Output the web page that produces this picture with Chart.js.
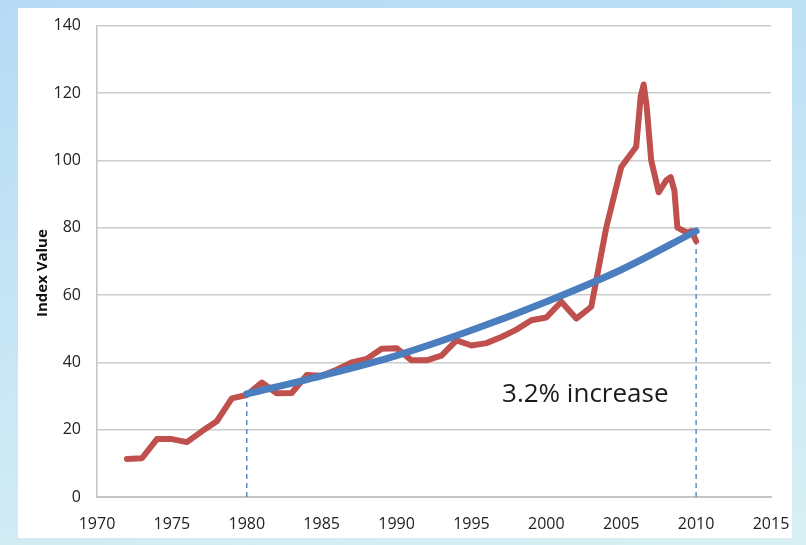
<!DOCTYPE html>
<html>
<head>
<meta charset="utf-8">
<script src="https://cdn.jsdelivr.net/npm/chart.js@4/dist/chart.umd.min.js"></script>
<style>
  html, body { margin: 0; padding: 0; }
  body {
    width: 806px; height: 545px; overflow: hidden; position: relative;
    background: linear-gradient(170deg, #b6dbf5 0%, #c7e6f5 50%, #d8f0f3 100%);
  }
  #panel { position: absolute; left: 18px; top: 8px; width: 774px; height: 530px; background: #fff; }
  #indexChart { position: absolute; left: 0; top: 0; }
</style>
</head>
<body>
<div id="panel"></div>
<canvas id="indexChart" width="806" height="545"></canvas>
<script>
// house price style index
const indexYears = [1972, 1973, 1974, 1975, 1976, 1977, 1978, 1979, 1980, 1981, 1982, 1983, 1984, 1985,
  1986, 1987, 1988, 1989, 1990, 1991, 1992, 1993, 1994, 1995, 1996, 1997, 1998, 1999, 2000, 2001,
  2002, 2003, 2004, 2005, 2006, 2006.3, 2006.5, 2006.7, 2007, 2007.5, 2008, 2008.3, 2008.55,
  2008.75, 2009.4, 2009.7, 2010];
const indexValues = [11.3, 11.5, 17.2, 17.2, 16.3, 19.5, 22.5, 29.3, 30.3, 34, 30.8, 30.9, 36.2, 36,
  37.8, 40, 41, 44, 44.2, 40.6, 40.6, 42, 46.5, 45, 45.7, 47.5, 49.7, 52.5, 53.3, 58,
  53, 56.5, 80, 98, 104, 119, 122.5, 116, 100, 90.5, 94, 95, 91,
  80, 78.5, 79, 76];

// trend line 1980-2010
const trendYears = [1980, 1985, 1990, 1995, 2000, 2005, 2010];
const trendValues = [30.6, 36, 42, 49.5, 58, 67.5, 79];

// dashed drop lines
const dropYears = [1980, 2010];
const dropTops = [30.6, 79];

const yTicks = [0, 20, 40, 60, 80, 100, 120, 140];
const xTicks = [1970, 1975, 1980, 1985, 1990, 1995, 2000, 2005, 2010, 2015];
const note = '3.2% increase';
const yTitle = 'Index Value';

const toPoints = (xs, ys) => xs.map((x, i) => ({ x: x, y: ys[i] }));

const dropSets = dropYears.map((yr, i) => ({
  data: [{ x: yr, y: 0 }, { x: yr, y: dropTops[i] }],
  borderColor: '#5b8dd3',
  borderWidth: 1.5,
  borderDash: [5, 4],
  pointRadius: 0,
  order: 3
}));

const textPlugin = {
  id: 'textPlugin',
  afterDraw(chart) {
    const ctx = chart.ctx;
    const xs = chart.scales.x, ys = chart.scales.y;
    ctx.save();
    ctx.fillStyle = '#1a1a1a';
    ctx.font = '26px "Open Sans"';
    ctx.textAlign = 'center';
    ctx.textBaseline = 'middle';
    ctx.fillText(note, xs.getPixelForValue(2002.6), ys.getPixelForValue(30.5));
    ctx.translate(43, ys.getPixelForValue(66.5));
    ctx.rotate(-Math.PI / 2);
    ctx.font = 'bold 15px "Open Sans"';
    ctx.fillStyle = '#111';
    ctx.fillText(yTitle, 0, 0);
    ctx.restore();
  }
};

new Chart(document.getElementById('indexChart'), {
  type: 'line',
  data: {
    datasets: [
      {
        data: toPoints(trendYears, trendValues),
        borderColor: '#4a7ebf',
        borderWidth: 7,
        pointRadius: 0,
        cubicInterpolationMode: 'monotone',
        borderCapStyle: 'round',
        order: 1
      },
      {
        data: toPoints(indexYears, indexValues),
        borderColor: '#c0504d',
        borderWidth: 6,
        pointRadius: 0,
        borderJoinStyle: 'round',
        borderCapStyle: 'round',
        order: 2
      },
      ...dropSets
    ]
  },
  options: {
    responsive: false,
    animation: false,
    layout: { padding: { top: 25, right: 35, left: 0, bottom: 0 } },
    plugins: { legend: { display: false }, tooltip: { enabled: false } },
    scales: {
      x: {
        type: 'linear',
        min: 1970, max: 2015,
        afterBuildTicks: s => { s.ticks = xTicks.map(v => ({ value: v })); },
        afterFit: s => { s.height = 48; },
        grid: { display: false },
        border: { color: '#c4c4c4', width: 2 },
        ticks: {
          autoSkip: false,
          padding: 10,
          color: '#222',
          font: { family: 'Open Sans', size: 16 },
          maxRotation: 0,
          callback: v => String(v)
        }
      },
      y: {
        min: 0, max: 140,
        afterBuildTicks: s => { s.ticks = yTicks.map(v => ({ value: v })); },
        afterFit: s => { s.width = 97; },
        grid: { color: '#cccccc', lineWidth: 1.5, drawTicks: false },
        border: { color: '#c4c4c4', width: 1.5 },
        ticks: {
          autoSkip: false,
          padding: 16,
          color: '#222',
          font: { family: 'Open Sans', size: 16 },
          callback: v => String(v)
        }
      }
    }
  },
  plugins: [textPlugin]
});
</script>
</body>
</html>
